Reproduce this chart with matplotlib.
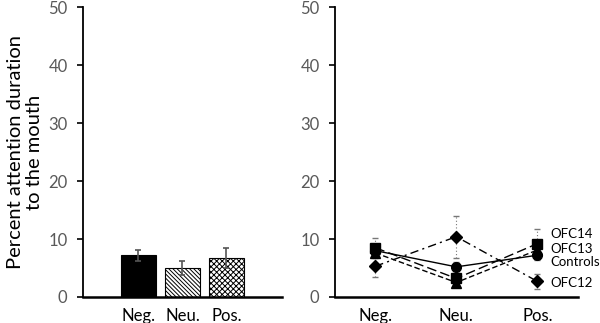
import matplotlib
matplotlib.use("Agg")
import matplotlib.pyplot as plt

plt.rcParams['font.family'] = ['Lato', 'DejaVu Sans']
plt.rcParams['hatch.linewidth'] = 0.7

categories = ["Neg.", "Neu.", "Pos."]
bar_means = [7.2, 5.0, 6.7]
bar_err = [0.95, 1.2, 1.7]

controls = [8.0, 5.2, 7.2]
controls_err = [0.8, 0.8, 0.8]
ofc12 = [5.3, 10.4, 2.7]
ofc12_err = [1.8, 3.6, 1.3]
ofc13 = [7.6, 2.5, 8.1]
ofc13_err = [0.6, 0.6, 0.6]
ofc14 = [8.5, 3.2, 9.2]
ofc14_err = [1.7, 1.0, 2.6]

series_names = ["OFC14", "OFC13", "Controls", "OFC12"]
label_y = [10.9, 8.3, 6.0, 2.5]

yticks = [0, 10, 20, 30, 40, 50]

fig = plt.figure(figsize=(6.0, 3.23), dpi=100)
ax1 = fig.add_axes([0.138, 0.0805, 0.332, 0.8975])
ax2 = fig.add_axes([0.558, 0.0805, 0.405, 0.8975])

x = list(range(len(categories)))

hatches = [None, '\\\\\\\\\\\\\\\\', 'xxxxxx']
for i in x:
    ax1.bar(i, bar_means[i], width=0.8, color='black' if i == 0 else 'white',
            edgecolor='black', linewidth=0.8, hatch=hatches[i], zorder=2)
ax1.errorbar(x, bar_means, yerr=bar_err, fmt='none', ecolor='#555555',
             elinewidth=1.2, capsize=2.5, capthick=1.2, zorder=3)
ax1.set_xlim(-1.26, 3.26)

specs = [
    (ofc14, ofc14_err, 's', (0, (7, 3))),
    (ofc13, ofc13_err, '^', (0, (4, 2))),
    (controls, controls_err, 'o', '-'),
    (ofc12, ofc12_err, 'D', (0, (6, 3, 1.5, 3))),
]
for vals, err, mk, ls in specs:
    eb = ax2.errorbar(x, vals, yerr=err, fmt='none', ecolor='#777777',
                      elinewidth=0.8, capsize=2, capthick=1.0, zorder=2)
    for lc in eb[2]:
        lc.set_linestyle((0, (1, 2)))
    ax2.plot(x, vals, color='black', linestyle=ls, linewidth=1.0,
             marker=mk, markersize=7 if mk != 'D' else 6, markerfacecolor='black',
             markeredgecolor='black', zorder=3)
for name, yy in zip(series_names, label_y):
    ax2.text(2.16, yy, name, fontsize=9.5, va='center', ha='left', clip_on=False)
ax2.set_xlim(-0.5, 2.5)

for ax in (ax1, ax2):
    ax.set_ylim(0, 50)
    ax.set_yticks(yticks)
    ax.set_xticks(x)
    ax.set_xticklabels(categories, fontsize=12)
    ax.tick_params(axis='x', length=0, pad=8)
    ax.tick_params(axis='y', length=4, width=1.2, direction='out', labelsize=12,
                   labelcolor='#595959', pad=7)
    for s in ('top', 'right'):
        ax.spines[s].set_visible(False)
    ax.spines['left'].set_linewidth(1.3)
    ax.spines['bottom'].set_linewidth(1.8)

ax1.set_ylabel("Percent attention duration\nto the mouth", fontsize=14.5, linespacing=1.1)

fig.savefig("out.png", dpi=100)
